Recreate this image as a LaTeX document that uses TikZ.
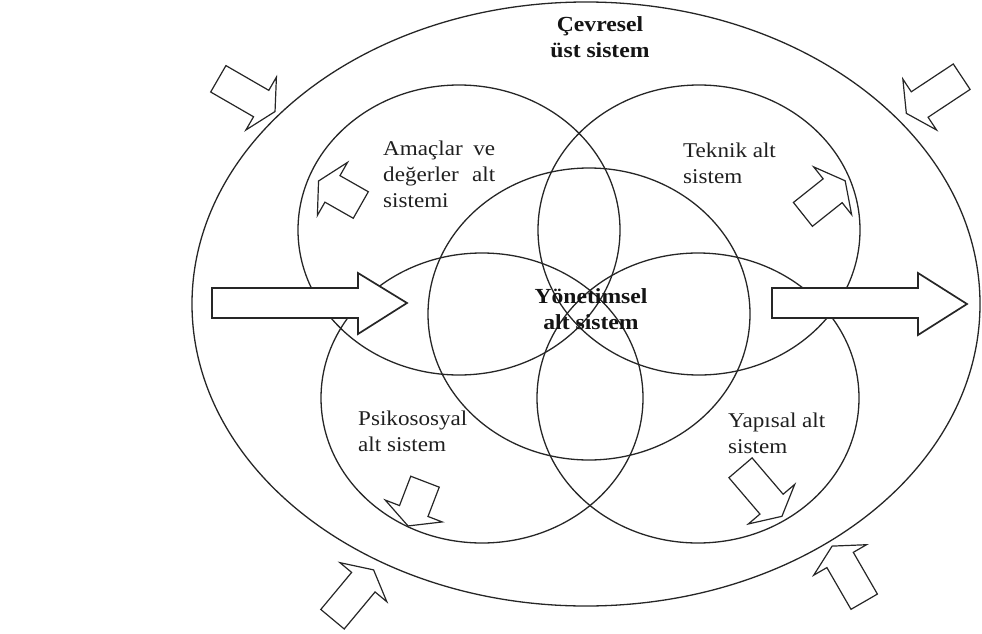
\documentclass[tikz,border=0pt]{standalone}
\usepackage{fontspec}
\setmainfont{Liberation Serif}[FakeStretch=1.1]
\newcommand\blockarr[3]{%
  \begin{scope}[shift={#1}, rotate=#2]
    \filldraw[smallarrow] (0,-15.25) -- (#3,-15.25) -- (#3,-30.5) -- ({#3+16},0)
      -- (#3,30.5) -- (#3,15.25) -- (0,15.25) -- cycle;
  \end{scope}}
\begin{document}
\begin{tikzpicture}[x=1pt,y=-1pt,
  ring/.style={draw=black!85, line width=1.3pt},
  smallarrow/.style={draw=black!85, fill=white, line width=1.2pt, line join=miter},
  bigarrow/.style={draw=black!85, fill=white, line width=1.7pt, line join=miter},
  label/.style={inner sep=0pt, anchor=base west, text=black!88,
    font=\fontsize{21}{26}\selectfont},
  blabel/.style={inner sep=0pt, anchor=base, text=black!92,
    font=\fontsize{21.5}{26}\selectfont\bfseries}]
\useasboundingbox (0,0) rectangle (982,634);
% ellipses
\draw[ring] (586,304) ellipse [x radius=394pt, y radius=302pt];
\draw[ring] (459,230) ellipse [x radius=161pt, y radius=145pt];
\draw[ring] (699,230) ellipse [x radius=161pt, y radius=145pt];
\draw[ring] (589,314) ellipse [x radius=161pt, y radius=146pt];
\draw[ring] (482,398) ellipse [x radius=161pt, y radius=145pt];
\draw[ring] (698,398) ellipse [x radius=161pt, y radius=145pt];
% big arrows
\filldraw[bigarrow] (212,288) -- (358,288) -- (358,273) -- (407,303) -- (358,334) -- (358,318) -- (212,318) -- cycle;
\filldraw[bigarrow] (772,288) -- (918,288) -- (918,273) -- (967,304) -- (918,335) -- (918,318) -- (772,318) -- cycle;
% small arrows
\blockarr{(218.3,78.8)}{-30}{49.5}
\blockarr{(961.7,76.7)}{-146.5}{50.4}
\blockarr{(332.5,619.2)}{50.2}{48.2}
\blockarr{(864.2,601.7)}{120}{48.2}
\blockarr{(360.8,205)}{150.4}{32.6}
\blockarr{(802.9,214.4)}{38.5}{38}
\blockarr{(425,481.7)}{-111}{31.4}
\blockarr{(740.5,467.8)}{-49.5}{47.8}
% labels
\node[blabel] (env) at (600,32) {\begin{tabular}[t]{@{}c@{}}Çevresel\\üst sistem\end{tabular}};
\node[label] (goals) at (383,155) {\begin{tabular}[t]{@{}l@{}}\makebox[112pt][s]{Amaçlar ve}\\\makebox[112pt][s]{değerler alt}\\sistemi\end{tabular}};
\node[label] (tech) at (683,157) {\begin{tabular}[t]{@{}l@{}}Teknik alt\\sistem\end{tabular}};
\node[blabel] (mgmt) at (591,303) {\begin{tabular}[t]{@{}c@{}}Yönetimsel\\alt sistem\end{tabular}};
\node[label] (psy) at (358,425) {\begin{tabular}[t]{@{}l@{}}Psikososyal\\alt sistem\end{tabular}};
\node[label] (struct) at (728,427) {\begin{tabular}[t]{@{}l@{}}Yapısal alt\\sistem\end{tabular}};
\end{tikzpicture}
\end{document}
